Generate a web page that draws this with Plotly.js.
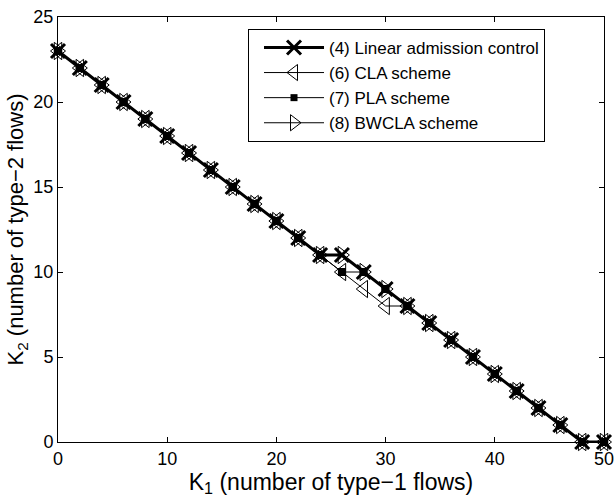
<!DOCTYPE html>
<html>
<head>
<meta charset="utf-8">
<script src="https://cdn.plot.ly/plotly-3.0.1.min.js"></script>
<style>html,body{margin:0;padding:0;background:#fff;}#chart{width:616px;height:498px;}</style>
</head>
<body>
<div id="chart"></div>
<script>
var k1 = [0,2,4,6,8,10,12,14,16,18,20,22,24,26,28,30,32,34,36,38,40,42,44,46,48,50];
var linearK2 = [23,22,21,20,19,18,17,16,15,14,13,12,11,11,10,9,8,7,6,5,4,3,2,1,0,0];
var claK2    = [23,22,21,20,19,18,17,16,15,14,13,12,11,10,9,8,8,7,6,5,4,3,2,1,0,0];
var plaK2    = [23,22,21,20,19,18,17,16,15,14,13,12,11,10,10,9,8,7,6,5,4,3,2,1,0,0];
var bwclaK2  = [23,22,21,20,19,18,17,16,15,14,13,12,11,11,10,9,8,7,6,5,4,3,2,1,0,0];
var seriesNames = ['(4) Linear admission control','(6) CLA scheme','(7) PLA scheme','(8) BWCLA scheme'];
var xTicks = [0,10,20,30,40,50];
var yTicks = [0,5,10,15,20,25];

var FONT = 'Liberation Sans, Arial, sans-serif';

var traces = [
  {x:k1, y:bwclaK2, name:seriesNames[3], mode:'lines+markers', cliponaxis:false, showlegend:false,
   line:{color:'#000',width:1}, marker:{symbol:'triangle-right-open',size:15,color:'#000',line:{width:1,color:'#000'}}},
  {x:k1, y:claK2, name:seriesNames[1], mode:'lines+markers', cliponaxis:false, showlegend:false,
   line:{color:'#000',width:1}, marker:{symbol:'triangle-left-open',size:15,color:'#000',line:{width:1,color:'#000'}}},
  {x:k1, y:plaK2, name:seriesNames[2], mode:'lines+markers', cliponaxis:false, showlegend:false,
   line:{color:'#000',width:1}, marker:{symbol:'square',size:8,color:'#000'}},
  {x:k1, y:linearK2, name:seriesNames[0], mode:'lines+markers', cliponaxis:false,
   line:{color:'#000',width:3}, marker:{symbol:'x-thin',size:14,color:'#000',line:{width:3,color:'#000'}}},
  {x:[null], y:[null], name:seriesNames[1], mode:'lines+markers', line:{color:'#000',width:1},
   marker:{symbol:'triangle-left-open',size:14,color:'#000',line:{width:1,color:'#000'}}},
  {x:[null], y:[null], name:seriesNames[2], mode:'lines+markers', line:{color:'#000',width:1},
   marker:{symbol:'square',size:7,color:'#000'}},
  {x:[null], y:[null], name:seriesNames[3], mode:'lines+markers', line:{color:'#000',width:1},
   marker:{symbol:'triangle-right-open',size:14,color:'#000',line:{width:1,color:'#000'}}}
];

var axisCommon = {
  showgrid:false, zeroline:false, showline:true, linecolor:'#000', linewidth:1, mirror:'ticks',
  ticks:'inside', ticklen:5, tickcolor:'#000', tickfont:{family:FONT, size:18, color:'#000'}
};

var layout = {
  width:616, height:498,
  margin:{l:58, r:12, t:17, b:56},
  paper_bgcolor:'#fff', plot_bgcolor:'#fff',
  font:{family:FONT, color:'#000'},
  xaxis: Object.assign({}, axisCommon, {
    range:[0,50], tickvals:xTicks, ticktext:xTicks.map(String),
    title:{text:'K<sub>1</sub> (number of type\u22121 flows)', font:{size:23,color:'#000'}, standoff:1}
  }),
  yaxis: Object.assign({}, axisCommon, {
    range:[0,25], tickvals:yTicks, ticktext:yTicks.map(String),
    title:{text:'K<sub>2</sub> (number of type\u22122 flows)', font:{size:22,color:'#000'}, standoff:3}
  }),
  legend:{
    x:0.348, y:0.972, xanchor:'left', yanchor:'top',
    bgcolor:'#fff', bordercolor:'#000', borderwidth:1,
    font:{size:17, family:FONT, color:'#000'},
    tracegroupgap:0, itemwidth:70, traceorder:'normal'
  },
  showlegend:true
};

Plotly.newPlot('chart', traces, layout, {displayModeBar:false, staticPlot:true}).then(function(gd){
  // lengthen and centre the legend samples like the reference (sample spans ~60px)
  var items = gd.querySelectorAll('.legend .traces');
  items.forEach(function(it){
    it.querySelectorAll('.legendlines path').forEach(function(p){ p.setAttribute('d','M15,0h60'); });
    it.querySelectorAll('.legendpoints path').forEach(function(p){ p.setAttribute('transform','translate(45,0)'); });
  });
});
</script>
</body>
</html>
